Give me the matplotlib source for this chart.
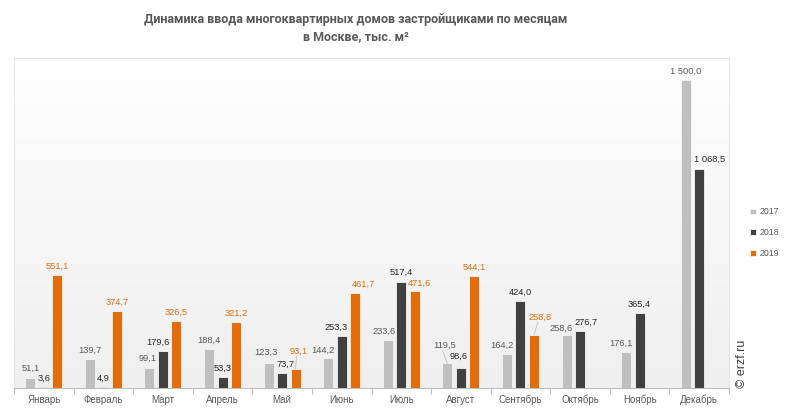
import numpy as np
import matplotlib
matplotlib.use("Agg")
import matplotlib.pyplot as plt

months = ["Январь", "Февраль", "Март", "Апрель", "Май", "Июнь", "Июль",
          "Август", "Сентябрь", "Октябрь", "Ноябрь", "Декабрь"]
y2017 = [51.1, 139.7, 99.1, 188.4, 123.3, 144.2, 233.6, 119.5, 164.2, 258.6, 176.1, 1500.0]
y2018 = [3.6, 4.9, 179.6, 53.3, 73.7, 253.3, 517.4, 98.6, 424.0, 276.7, 365.4, 1068.5]
y2019 = [551.1, 374.7, 326.5, 321.2, 93.1, 461.7, 471.6, 544.1, 258.8, np.nan, np.nan, np.nan]
series_names = ["2017", "2018", "2019"]

bar_colors = ["#BFBFBF", "#404040", "#E46C0A"]
label_colors = ["#595959", "#262626", "#E46C0A"]

# label nudges in pixels (series, month) -> (dx, dy), to keep labels apart
nudges = {
    (0, 2): (-2, 0), (1, 2): (-5, 0),
    (0, 4): (-3, 1), (1, 4): (3, 0), (2, 4): (3, 9),
    (0, 5): (-5, -1), (1, 5): (-6, 0), (2, 5): (8, 0),
    (0, 6): (-4, 0), (2, 6): (5, -1),
    (0, 7): (-3, 9), (1, 7): (-2, 2),
    (0, 8): (-5, 0), (2, 8): (6, 9),
    (0, 9): (-5, -2), (1, 9): (6, 0),
    (0, 10): (-5, 0),
    (1, 11): (10, 0),
}
leaders = [(2, 4), (0, 7), (2, 8)]

plt.rcParams['font.family'] = ['Liberation Sans', 'DejaVu Sans']

fig = plt.figure(figsize=(7.92, 4.15), dpi=100)
ax = fig.add_axes([14/792, 27/415, 715/792, 330/415])

x = np.arange(len(months))
step = 0.226
width = 0.168
ymax = 1607

# gradient background of plot area
grad = np.linspace(0, 1, 256).reshape(-1, 1)
ax.imshow(grad, extent=[-0.5, 11.5, 0, ymax], aspect='auto', origin='lower',
          cmap=matplotlib.colors.LinearSegmentedColormap.from_list('bg', ['#EFEFEF', '#FFFFFF']),
          zorder=0)


def fmt(v):
    s = f"{v:,.1f}".replace(",", " ").replace(".", ",")
    return s


for i, (vals, name) in enumerate(zip([y2017, y2018, y2019], series_names)):
    pos = x + (i - 1) * step
    ax.bar(pos, vals, width=width, color=bar_colors[i], edgecolor='#F5F5F5',
           linewidth=0.6, label=name, zorder=2)
    for j, (p, v) in enumerate(zip(pos, vals)):
        if np.isnan(v):
            continue
        dx, dy = nudges.get((i, j), (0, 0))
        ax.annotate(fmt(v), (p, v), xytext=(dx, 9 + dy), textcoords='offset pixels',
                    ha='center', va='center', fontsize=6.7, color=label_colors[i], zorder=3)
        if (i, j) in leaders:
            ax.annotate("", (p, v), xytext=(dx - 2, 9 + dy - 5), textcoords='offset pixels',
                        arrowprops=dict(arrowstyle='-', color='#BFBFBF', lw=0.6,
                                        shrinkA=0, shrinkB=0), zorder=3)

ax.set_xlim(-0.5, 11.5)
ax.set_ylim(0, ymax)
ax.set_yticks([])
ax.set_xticks(x)
ax.set_xticklabels(months, fontsize=7, color='#595959')
ax.tick_params(axis='x', which='major', length=0, pad=5)
ax.set_xticks(np.arange(-0.5, 12, 1), minor=True)
ax.tick_params(axis='x', which='minor', length=4, color='#BFBFBF', width=0.8)
for side in ['left', 'right', 'top']:
    ax.spines[side].set_color('#E6E6E6')
    ax.spines[side].set_linewidth(0.8)
ax.spines['bottom'].set_color('#BFBFBF')
ax.spines['bottom'].set_linewidth(0.8)

fig.text(356/792, 1 - 28/415, "Динамика ввода многоквартирных домов застройщиками по месяцам\nв Москве, тыс. м²",
         ha='center', va='center', fontsize=9, fontweight='bold', color='#595959',
         family=['Roboto', 'DejaVu Sans'], linespacing=1.45)

leg = fig.legend(loc='upper left', bbox_to_anchor=(746/792, 1 - 203/415), frameon=False,
                 fontsize=6.3, handlelength=0.6, handleheight=0.6, handletextpad=0.4,
                 labelspacing=1.35, borderpad=0)
for t in leg.get_texts():
    t.set_color('#595959')

fig.text(742/792, 1 - 364/415, "© erzf.ru", rotation=90, ha='center', va='center',
         fontsize=9, color='#404040')

fig.savefig("out.png", dpi=100)
